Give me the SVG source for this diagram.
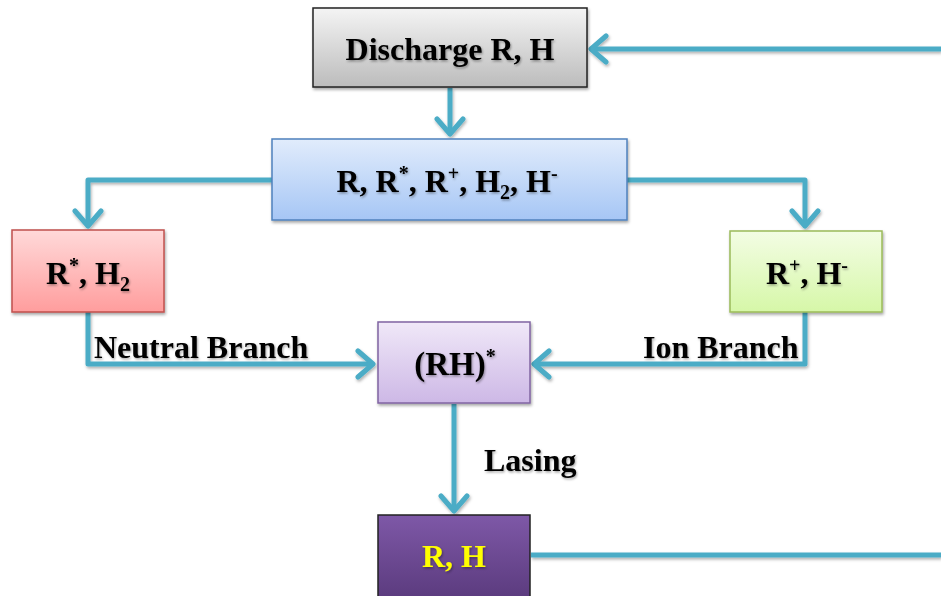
<svg xmlns="http://www.w3.org/2000/svg" width="941" height="596" viewBox="0 0 941 596">
<defs>
<linearGradient id="gGray" x1="0" y1="0" x2="0" y2="1"><stop offset="0" stop-color="#f4f4f4"/><stop offset="1" stop-color="#bcbcbc"/></linearGradient>
<linearGradient id="gBlue" x1="0" y1="0" x2="0" y2="1"><stop offset="0" stop-color="#e1ecfc"/><stop offset="1" stop-color="#a6c6f5"/></linearGradient>
<linearGradient id="gRed" x1="0" y1="0" x2="0" y2="1"><stop offset="0" stop-color="#ffd9d9"/><stop offset="1" stop-color="#ff9d9d"/></linearGradient>
<linearGradient id="gGreen" x1="0" y1="0" x2="0" y2="1"><stop offset="0" stop-color="#f3fde4"/><stop offset="1" stop-color="#d6f7a8"/></linearGradient>
<linearGradient id="gLav" x1="0" y1="0" x2="0" y2="1"><stop offset="0" stop-color="#f0e8f8"/><stop offset="1" stop-color="#cdb8e6"/></linearGradient>
<linearGradient id="gPurple" x1="0" y1="0" x2="0" y2="1"><stop offset="0" stop-color="#7e58a7"/><stop offset="1" stop-color="#5b3b7e"/></linearGradient>
<filter id="sh" x="-10%" y="-10%" width="130%" height="140%"><feDropShadow dx="1" dy="2" stdDeviation="1.5" flood-color="#000" flood-opacity="0.35"/></filter>
<filter id="csh" filterUnits="userSpaceOnUse" x="0" y="0" width="941" height="596"><feDropShadow dx="1" dy="2" stdDeviation="1.5" flood-color="#000" flood-opacity="0.3"/></filter>
<filter id="tsh" x="-10%" y="-20%" width="130%" height="150%"><feDropShadow dx="1" dy="1.5" stdDeviation="1" flood-color="#000" flood-opacity="0.35"/></filter>
<marker id="arr" markerUnits="userSpaceOnUse" viewBox="-20 -16 24 32" refX="0" refY="0" markerWidth="24" markerHeight="32" orient="auto">
<path d="M-15,-13 L0,0 L-15,13" fill="none" stroke="#4bacc6" stroke-width="5" stroke-linecap="round" stroke-linejoin="round"/>
</marker>
</defs>
<style>
.conn{fill:none;stroke:#4bacc6;stroke-width:5;stroke-linejoin:round}
.t{font-family:"Liberation Serif","Times New Roman",serif;font-weight:bold;fill:#000;text-anchor:middle;filter:url(#tsh)}
.lbl{font-family:"Liberation Serif","Times New Roman",serif;font-weight:bold;fill:#000;font-size:32px;filter:url(#tsh)}
</style>
<g id="connectors">
<g filter="url(#csh)">
<path class="conn" d="M941,49 L591,49" marker-end="url(#arr)"/>
<path class="conn" d="M450,88 L450,134" marker-end="url(#arr)"/>
<path class="conn" d="M272,180 L88,180 L88,226" marker-end="url(#arr)"/>
<path class="conn" d="M627,180 L805,180 L805,226" marker-end="url(#arr)"/>
<path class="conn" d="M88,312 L88,364 L373,364" marker-end="url(#arr)"/>
<path class="conn" d="M805,312 L805,364 L534,364" marker-end="url(#arr)"/>
<path class="conn" d="M454,404 L454,511" marker-end="url(#arr)"/>
<path class="conn" d="M531,555 L941,555"/>
</g>
<text class="lbl" x="94" y="358">Neutral Branch</text>
<text class="lbl" x="643" y="358">Ion Branch</text>
<text class="lbl" x="484" y="471">Lasing</text>
</g>
<g id="discharge">
<rect x="313" y="8" width="274" height="79" fill="url(#gGray)" stroke="#222" stroke-width="1.5" filter="url(#sh)"/>
<text class="t" x="450" y="60" font-size="32">Discharge R, H</text>
</g>
<g id="mixture">
<rect x="272" y="139" width="355" height="81" fill="url(#gBlue)" stroke="#4f81bd" stroke-width="1.5" filter="url(#sh)"/>
<text class="t" x="447" y="192" font-size="32">R, R<tspan font-size="20" dy="-12">*</tspan><tspan dy="12">, R</tspan><tspan font-size="20" dy="-12">+</tspan><tspan dy="12">, H</tspan><tspan font-size="20" dy="7">2</tspan><tspan dy="-7">, H</tspan><tspan font-size="20" dy="-12">-</tspan></text>
</g>
<g id="neutral">
<rect x="12" y="230" width="152" height="82" fill="url(#gRed)" stroke="#c0504d" stroke-width="1.5" filter="url(#sh)"/>
<text class="t" x="88" y="284" font-size="32">R<tspan font-size="20" dy="-12">*</tspan><tspan dy="12">, H</tspan><tspan font-size="20" dy="7">2</tspan></text>
</g>
<g id="ion">
<rect x="730" y="231" width="152" height="81" fill="url(#gGreen)" stroke="#9bbb59" stroke-width="1.5" filter="url(#sh)"/>
<text class="t" x="807" y="284" font-size="32">R<tspan font-size="20" dy="-12">+</tspan><tspan dy="12">, H</tspan><tspan font-size="20" dy="-12">-</tspan></text>
</g>
<g id="excited">
<rect x="378" y="322" width="152" height="81" fill="url(#gLav)" stroke="#8064a2" stroke-width="1.5" filter="url(#sh)"/>
<text class="t" x="455" y="375" font-size="33">(RH)<tspan font-size="20" dy="-12">*</tspan></text>
</g>
<g id="ground">
<rect x="378" y="515" width="152" height="84" fill="url(#gPurple)" stroke="#222" stroke-width="1.5"/>
<text class="t" x="454" y="567" font-size="32" style="fill:#ffff00">R, H</text>
</g>
</svg>
